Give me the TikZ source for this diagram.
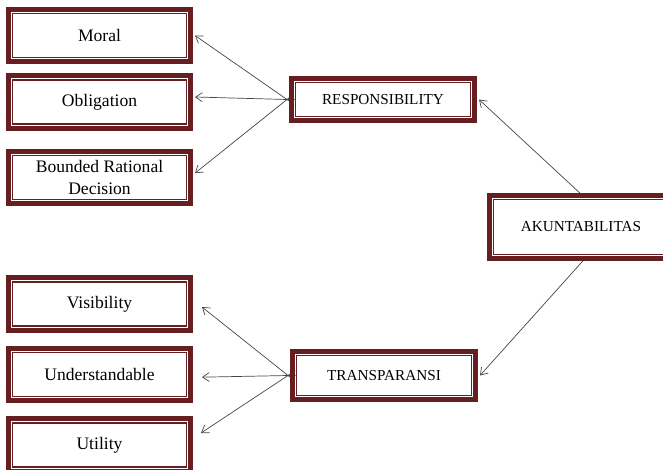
\documentclass[tikz,border=0pt]{standalone}
\usepackage{fontspec}
\setmainfont{Liberation Serif}
\usetikzlibrary{ positioning, % For easy node-relative placements
                 arrows.meta,
                 backgrounds, % For putting the links behind the boxes
               }
\definecolor{framered}{RGB}{102,30,33}
\definecolor{linkgray}{RGB}{70,70,70}
\tikzstyle{box} = [rectangle, draw=framered, line width=0.9pt, fill=white, text centered, outer sep=0.26cm, inner sep=0pt]
\tikzstyle{factor} = [box, minimum width=5.21cm, minimum height=1.32cm, font=\fontsize{15}{18.8}\selectfont, align=center]
\tikzstyle{dimension} = [box, minimum width=5.24cm, font=\fontsize{13}{15}\selectfont]
\tikzstyle{frame} = [draw=framered, line width=0.141cm]
\tikzstyle{link} = [->, draw=linkgray, line width=0.6pt, shorten <=-0.26cm]

\begin{document}
\begin{tikzpicture}[x=0.03cm, y=-0.03cm, >={Straight Barb[length=0.2cm, width=0.27cm]}]
  \clip (0, 0) rectangle (663, 469);

  % left column
  \node (moral) [factor] at (99.5, 35.5) {Moral};
  \node (oblig) [factor] at (99.5, 102) {Obligation};
  \node (bounded) [factor] at (99.5, 177.5) {Bounded Rational\\Decision};
  \node (visib) [factor] at (99.5, 304) {Visibility};
  \node (under) [factor] at (99.5, 374.5) {Understandable};
  \node (util) [factor] at (99.5, 445) {Utility};

  % middle and right
  \node (resp) [dimension, minimum height=1.01cm] at (383, 99.5) {RESPONSIBILITY};
  \node (trans) [dimension, minimum height=1.19cm] at (384, 375.5) {TRANSPARANSI};
  \node (akun) [dimension, minimum height=1.64cm] at (581, 227) {AKUNTABILITAS};

  % outer thick frames
  \foreach \n in {moral, oblig, bounded, visib, under, util, resp, trans, akun}
    \draw [frame] ([shift={(0.13cm,-0.13cm)}]\n.north west) rectangle ([shift={(-0.13cm,0.13cm)}]\n.south east);

  \begin{scope}[on background layer]
    \draw [link] ([xshift=-0.1cm]akun.north) -- (resp.east);
    \draw [link] (akun.south) -- (trans.east);
    \draw [link] (resp.west) -- (moral.east);
    \draw [link] (resp.west) -- ([yshift=0.15cm]oblig.east);
    \draw [link] (resp.west) -- ([yshift=0.13cm]bounded.east);
    \draw [link] (trans.west) -- ([shift={(0.21cm,-0.09cm)}]visib.east);
    \draw [link] (trans.west) -- ([shift={(0.21cm,-0.08cm)}]under.east);
    \draw [link] (trans.west) -- ([shift={(0.18cm,0.36cm)}]util.east);
  \end{scope}
\end{tikzpicture}
\end{document}
